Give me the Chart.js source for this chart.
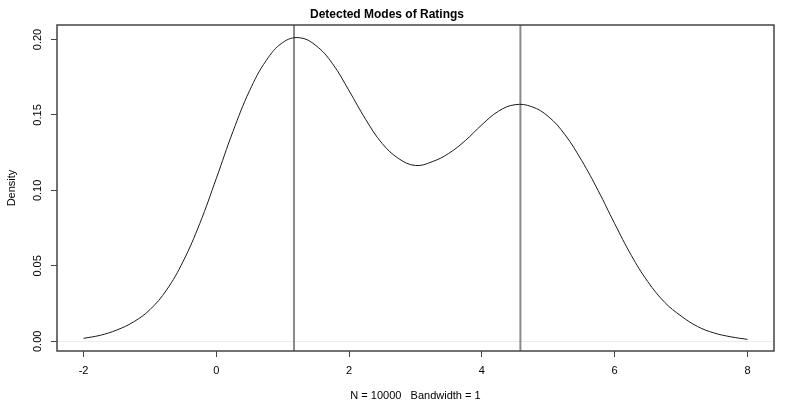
<!DOCTYPE html>
<html>
<head>
<meta charset="utf-8">
<script src="https://cdn.jsdelivr.net/npm/chart.js@4"></script>
<style>
  html, body { margin: 0; padding: 0; background: #fff; }
  #ChartForModes { display: block; }
</style>
</head>
<body>
<canvas id="ChartForModes" width="800" height="412"></canvas>
<script>

// density estimate
var ratingX = [-2, -1.75, -1.5, -1.25, -1, -0.75, -0.5, -0.25, 0, 0.25, 0.5, 0.75, 1, 1.25, 1.5, 1.75, 2, 2.25, 2.5, 2.75, 3, 3.25, 3.5, 3.75, 4, 4.25, 4.5, 4.75, 5, 5.25, 5.5, 5.75, 6, 6.25, 6.5, 6.75, 7, 7.25, 7.5, 7.75, 8];
var densityY = [0.002, 0.004, 0.0075, 0.0128, 0.021, 0.034, 0.053, 0.078, 0.108, 0.139, 0.166, 0.186, 0.198, 0.2012, 0.196, 0.184, 0.166, 0.147, 0.131, 0.121, 0.1165, 0.119, 0.1245, 0.133, 0.1435, 0.1525, 0.1568, 0.1555, 0.149, 0.137, 0.120, 0.100, 0.078, 0.057, 0.0395, 0.026, 0.0168, 0.0098, 0.0055, 0.003, 0.0013];

// detected modes (vertical lines)
var modes = [1.17, 4.58];

var xTicks = [-2, 0, 2, 4, 6, 8];
var yTicks = [0, 0.05, 0.10, 0.15, 0.20];

var xMin = -2.4, xMax = 8.4;
var yMin = -0.0064, yMax = 0.2096;

DrawModesChart();

function DrawModesChart() {

    var curve = ratingX.map(function (x, i) { return { x: x, y: densityY[i] }; });

    var datasets = [{
        label: 'Density',
        data: curve,
        borderColor: '#1a1a1a',
        borderWidth: 1,
        pointRadius: 0,
        showLine: true,
        tension: 0.4,
        order: 1
    }];

    modes.forEach(function (m) {
        datasets.push({
            label: 'Mode',
            data: [{ x: m, y: yMin }, { x: m, y: yMax }],
            borderColor: '#8a8a8a',
            borderWidth: 2,
            pointRadius: 0,
            showLine: true,
            order: 2
        });
    });

    // box round the plot region, like R's box()
    var frame = {
        id: 'frame',
        afterDraw: function (chart) {
            var a = chart.chartArea, c = chart.ctx;
            c.save();
            c.strokeStyle = '#444';
            c.lineWidth = 1.5;
            c.strokeRect(a.left, a.top, a.right - a.left, a.bottom - a.top);
            c.restore();
        }
    };

    var ctx = document.getElementById('ChartForModes').getContext('2d');

    var ChartForModes = new Chart(ctx, {
        type: 'scatter',
        data: { datasets: datasets },
        plugins: [frame],
        options: {
            responsive: false,
            animation: false,
            layout: { padding: { left: 0, right: 26, top: 0, bottom: 0 } },
            plugins: {
                legend: { display: false },
                tooltip: { enabled: false },
                title: {
                    display: true,
                    text: 'Detected Modes of Ratings',
                    color: '#000',
                    font: { family: 'Liberation Sans', size: 12, weight: 'bold' },
                    padding: { top: 7, bottom: 3.6 }
                }
            },
            scales: {
                x: {
                    type: 'linear',
                    min: xMin,
                    max: xMax,
                    afterBuildTicks: function (s) { s.ticks = xTicks.map(function (v) { return { value: v }; }); },
                    afterFit: function (s) { s.height = 61; },
                    border: { display: false },
                    grid: { drawOnChartArea: false, tickLength: 6, tickColor: '#444', tickWidth: 1 },
                    ticks: {
                        color: '#000',
                        font: { family: 'Liberation Sans', size: 11 },
                        padding: 7,
                        maxRotation: 0,
                        callback: function (v) { return String(v); }
                    },
                    title: {
                        display: true,
                        text: 'N = 10000   Bandwidth = 1',
                        color: '#000',
                        font: { family: 'Liberation Sans', size: 11 },
                        padding: { top: 10, bottom: 9 }
                    }
                },
                y: {
                    type: 'linear',
                    min: yMin,
                    max: yMax,
                    afterBuildTicks: function (s) { s.ticks = yTicks.map(function (v) { return { value: v }; }); },
                    afterFit: function (s) { s.width = 57; },
                    border: { display: false },
                    grid: {
                        drawOnChartArea: true,
                        color: function (c) { return c.tick && c.tick.value === 0 ? '#ececec' : 'rgba(0,0,0,0)'; },
                        tickLength: 6,
                        tickColor: '#444',
                        tickWidth: 1
                    },
                    ticks: {
                        color: '#000',
                        font: { family: 'Liberation Sans', size: 11 },
                        padding: 2,
                        crossAlign: 'center',
                        minRotation: 90,
                        maxRotation: 90,
                        callback: function (v) { return v.toFixed(2); }
                    },
                    title: {
                        display: true,
                        text: 'Density',
                        color: '#000',
                        font: { family: 'Liberation Sans', size: 11 },
                        padding: { top: 5, bottom: 0 }
                    }
                }
            }
        }
    });
}

</script>
</body>
</html>
